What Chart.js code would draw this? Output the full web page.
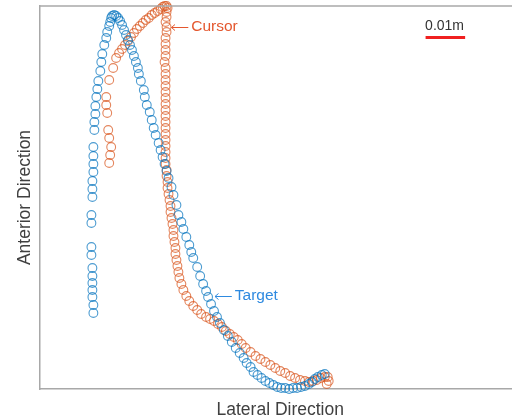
<!DOCTYPE html>
<html>
<head>
<meta charset="utf-8">
<script src="https://cdn.jsdelivr.net/npm/chart.js@4.4.1/dist/chart.umd.min.js"></script>
<style>
  html, body { margin: 0; padding: 0; background: #fff; overflow: hidden; width: 512px; height: 417px; }
  #wrap { width: 526px; height: 417px; position: relative; }
</style>
</head>
<body>
<div id="wrap"><canvas id="c"></canvas></div>
<script>
// Positions in millimetres (lateral, anterior)
const targetX = [13.5,13.5,13.25,13.25,13.25,13.25,13.25,13,13,13,13,13.25,13.25,13.25,13.5,13.5,13.5,13.5,13.75,13.75,14,14,14.25,14.5,14.75,15.25,15.5,15.75,16.25,16.75,17,17.5,17.75,18,18.25,18.75,19.25,19.75,20.25,20.75,21.25,21.75,22.25,22.75,23.25,23.75,24.25,24.75,25,25.5,26.25,26.5,27,27.75,28.25,28.75,29.25,30,30.5,31,31.5,32,32.5,33.25,33.75,34.5,35,35.75,36.25,37,37.75,38.25,38.75,39.75,40.5,41.25,42,42.5,43.25,44,44.75,45.5,46.5,47.5,48.5,49.5,50.5,51.5,52.25,53.25,54,55,56,57,58,59,60,61,62,63,64,65,66,67,68,68.75,69.5,70.25,71.25,72];
const targetY = [19,21,23,24.75,26.5,28.25,30.25,33.5,35.5,41.5,43.5,48,50,52,54.25,56.25,58.25,60.5,64.75,66.75,68.75,70.75,73,75,77,79.5,81.75,83.75,86,87.75,89.25,90.75,91.75,92.75,93.25,93.5,93.25,92.75,92,91,89.75,88.5,87.25,86,84.75,83.25,81.75,80.25,78.75,77,74.75,73,71,69.25,67.25,65.25,63.5,61.5,59.75,58,56.25,54.5,52.75,50.5,48.5,46,43.5,41.75,40,38,36,34.25,32.75,30.5,28.25,26.25,24.5,23,21.25,19.5,18,16.5,14.75,13.25,11.75,10.25,9,7.75,6.5,5.5,4.25,3.5,2.75,2,1.5,1,0.5,0.25,0.25,0,0.25,0.25,0.5,0.75,1.25,1.75,2.5,3,3.5,3.75];

const cursorX = [17.5,17.75,18,17.5,17.25,17,16.75,16.75,17.5,18.5,19.25,20,20.75,21.5,22.25,23,23.75,24.5,25.25,26,26.75,27.5,28.25,29,29.75,30.5,31,31.5,32,32.25,32,32,31.75,32,32,31.75,31.75,31.75,31.75,31.5,31.75,31.75,31.75,31.75,31.75,31.75,31.75,31.75,31.75,31.75,31.75,31.75,31.75,31.75,31.75,31.75,31.75,32,32,32.25,32.25,32.5,32.75,33,33,33.25,33.5,33.75,33.75,34,34.25,34.25,34.5,34.75,35,35.25,35.75,36.25,37,37.75,38.75,39.75,40.75,42,43,44,45,46,47,48,49,50,51,52,53.25,54.5,55.75,57,58.25,59.5,60.75,62,63.25,64.5,65.75,67,68,69,70,71,72,72.75,73,72.5];
const cursorY = [56.5,58.5,60.5,62.75,64.75,69,71,73,77.25,80.25,82.75,84,85,86,87,88,89,90,90.75,91.5,92.25,92.75,93.5,94,94.5,95,95.5,95.75,95.75,95.25,94.25,93,91.75,90.5,89.25,87.75,86.25,84.75,83.25,81.75,80.25,78.75,77.25,75.75,74.25,72.75,71.25,69.75,68.25,66.75,65.25,63.75,62.25,60.75,59.25,57.75,56.25,54.75,53.25,51.75,50.25,48.75,47.25,45.75,44.25,42.75,41.25,39.75,38.25,36.75,35.25,33.75,32.25,30.75,29.25,27.75,26.25,24.75,23.25,22,20.75,19.75,18.75,18,17.5,17,16.25,15.5,14.5,13.75,13,12.25,11.25,10.25,9.25,8.25,7.5,6.75,6,5.25,4.5,4,3.25,2.75,2.25,2,1.75,2,2.25,2.75,3,3,2,1.25];

const scaleBarX = [97.5, 107.5];   // 10 mm = 0.01 m
const scaleBarY = [87.9, 87.9];
const scaleBarLabel = '0.01m';

const xRange = [0, 121.5];
const yRange = [0, 95.75];

const labelCursor = { text: 'Cursor', arrowX: 33.25, arrowLen: 4.25, textX: 38.25, y: 90.5, color: '#e4572e' };
const labelTarget = { text: 'Target', arrowX: 44.25, arrowLen: 4.25, textX: 49.25, y: 23.25, color: '#2e8ae0' };
const scaleLabelPos = { x: 102.3, y: 90.6 };

const toPts = (xs, ys) => xs.map((x, i) => ({ x, y: ys[i] }));

const annot = {
  id: 'annot',
  afterDraw(chart) {
    const { ctx, scales: { x, y }, chartArea } = chart;
    ctx.save();
    // top frame line
    ctx.strokeStyle = '#a8a8a8';
    ctx.lineWidth = 1.5;
    ctx.beginPath();
    ctx.moveTo(chartArea.left, chartArea.top);
    ctx.lineTo(chartArea.right, chartArea.top);
    ctx.stroke();
    ctx.textBaseline = 'middle';
    ctx.textAlign = 'left';
    ctx.font = '15.5px "Liberation Sans", Arial, sans-serif';
    for (const l of [labelCursor, labelTarget]) {
      const ax = x.getPixelForValue(l.arrowX);
      const ax2 = x.getPixelForValue(l.arrowX + l.arrowLen);
      const ay = Math.round(y.getPixelForValue(l.y)) + 0.5;
      ctx.strokeStyle = l.color;
      ctx.lineWidth = 1;
      ctx.beginPath();
      ctx.moveTo(ax, ay); ctx.lineTo(ax2, ay);
      ctx.moveTo(ax + 3.5, ay - 3); ctx.lineTo(ax, ay); ctx.lineTo(ax + 3.5, ay + 3);
      ctx.stroke();
      ctx.fillStyle = l.color;
      ctx.fillText(l.text, x.getPixelForValue(l.textX), y.getPixelForValue(l.y));
    }
    ctx.fillStyle = '#333';
    ctx.textAlign = 'center';
    ctx.font = '14px "Liberation Sans", Arial, sans-serif';
    ctx.fillText(scaleBarLabel, x.getPixelForValue(scaleLabelPos.x), y.getPixelForValue(scaleLabelPos.y));
    ctx.restore();
  }
};

new Chart(document.getElementById('c'), {
  type: 'scatter',
  data: {
    datasets: [
      {
        label: 'Target',
        data: toPts(targetX, targetY),
        pointStyle: 'circle',
        pointRadius: 4.4,
        pointBorderWidth: 1.1,
        borderColor: 'rgba(0,114,189,0.7)',
        backgroundColor: 'rgba(0,0,0,0)',
        clip: false
      },
      {
        label: 'Cursor',
        data: toPts(cursorX, cursorY),
        pointStyle: 'circle',
        pointRadius: 4.4,
        pointBorderWidth: 1.1,
        borderColor: 'rgba(217,83,25,0.7)',
        backgroundColor: 'rgba(0,0,0,0)',
        clip: false
      },
      {
        label: 'Scale',
        type: 'line',
        data: toPts(scaleBarX, scaleBarY),
        borderColor: '#f02020',
        borderWidth: 3,
        pointRadius: 0,
        fill: false,
        clip: false
      }
    ]
  },
  options: {
    responsive: true,
    maintainAspectRatio: false,
    animation: false,
    layout: { padding: { top: 6, right: 0, left: 0, bottom: 0 } },
    plugins: { legend: { display: false }, tooltip: { enabled: false }, title: { display: false } },
    scales: {
      x: {
        type: 'linear',
        min: xRange[0], max: xRange[1],
        grid: { display: false },
        ticks: { display: false },
        border: { display: true, color: '#a8a8a8', width: 1.5 },
        title: {
          display: true, text: 'Lateral Direction', color: '#404040',
          font: { family: '"Liberation Sans", Arial, sans-serif', size: 17.5, lineHeight: 1 },
          padding: { top: 0, bottom: -1.5 }
        },
        afterFit(s) { s.height = 28; }
      },
      y: {
        type: 'linear',
        min: yRange[0], max: yRange[1],
        grid: { display: false },
        ticks: { display: false },
        border: { display: true, color: '#a8a8a8', width: 1.5 },
        title: {
          display: true, text: 'Anterior Direction', color: '#404040',
          font: { family: '"Liberation Sans", Arial, sans-serif', size: 17.5, lineHeight: 1 },
          padding: { top: 16.5, bottom: 0 }
        },
        afterFit(s) { s.width = 40; }
      }
    }
  },
  plugins: [annot]
});
</script>
</body>
</html>
